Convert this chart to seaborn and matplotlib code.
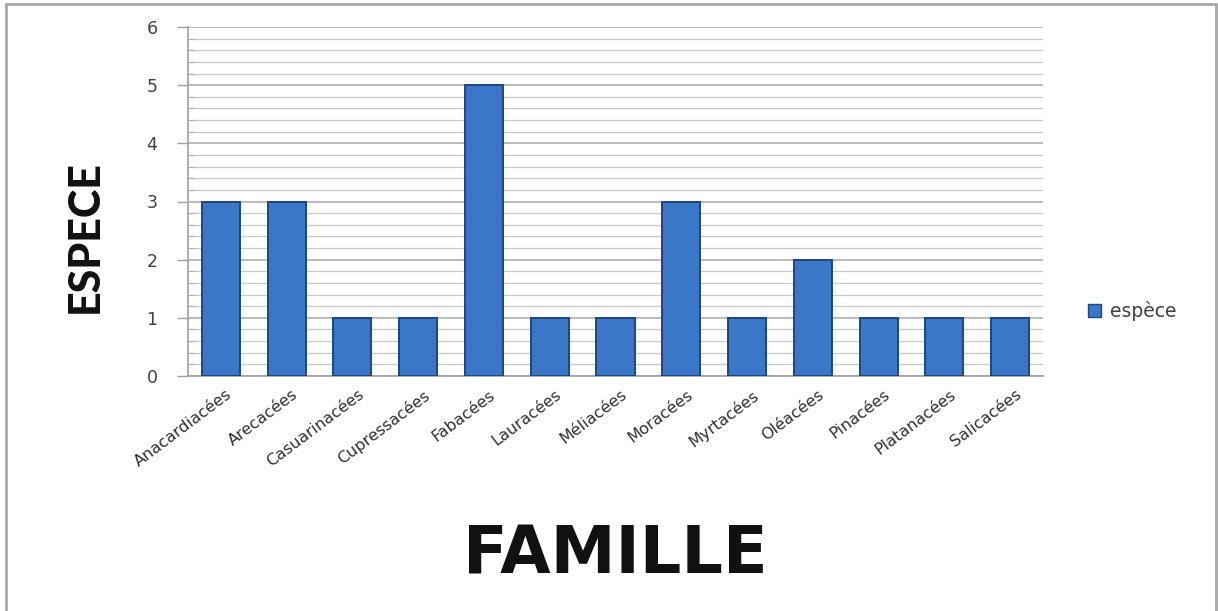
import matplotlib
matplotlib.use("Agg")
import matplotlib.pyplot as plt
import matplotlib.transforms as mtransforms
from matplotlib.lines import Line2D
from matplotlib.patches import Patch
from matplotlib.ticker import MultipleLocator
import seaborn as sns
import pandas as pd

families = ["Anacardiacées", "Arecacées", "Casuarinacées", "Cupressacées", "Fabacées",
            "Lauracées", "Méliacées", "Moracées", "Myrtacées", "Oléacées",
            "Pinacées", "Platanacées", "Salicacées"]
especes = [3, 3, 1, 1, 5, 1, 1, 3, 1, 2, 1, 1, 1]
series_name = "espèce"
y_ticks = [0, 1, 2, 3, 4, 5, 6]

sns.set_theme(style="white")
plt.rcParams['font.family'] = ['DejaVu Sans']

W, H = 1218, 611
fig = plt.figure(figsize=(W / 100, H / 100), dpi=100)
ax = fig.add_axes([188 / W, 1 - 376 / H, (1043 - 188) / W, (376 - 27) / H])

df = pd.DataFrame({"famille": families, "espece": especes})
bar_color = "#3A77C9"
edge_color = "#1C4680"
sns.barplot(data=df, x="famille", y="espece", color=bar_color, width=0.58,
            edgecolor=edge_color, linewidth=1.4, saturation=1, ax=ax, zorder=3)

ax.set_ylim(0, 6)
ax.set_xlim(-0.5, len(families) - 0.5)
ax.set_yticks(y_ticks)
ax.yaxis.set_minor_locator(MultipleLocator(0.2))
ax.grid(True, axis="y", which="major", color="#A8A8A8", linewidth=1.1, zorder=0)
ax.grid(True, axis="y", which="minor", color="#C8C8C8", linewidth=0.9, zorder=0)
ax.set_axisbelow(True)

for s in ["top", "right"]:
    ax.spines[s].set_visible(False)
for s in ["left", "bottom"]:
    ax.spines[s].set_color("#A0A0A0")
    ax.spines[s].set_linewidth(1.2)

ax.tick_params(axis="y", which="major", left=True, length=8, width=1, color="#A0A0A0",
               direction="out", pad=14, labelsize=12.5, labelcolor="#404040")
ax.tick_params(axis="y", which="minor", left=True, length=4, width=0.8, color="#B0B0B0",
               direction="in")
ax.tick_params(axis="x", bottom=False, pad=2, labelsize=11.5, labelcolor="#303030")
shift = mtransforms.ScaledTranslation(5 / 100, 0, fig.dpi_scale_trans)
for lab in ax.get_xticklabels():
    lab.set_rotation(37)
    lab.set_ha("right")
    lab.set_va("top")
    lab.set_rotation_mode("anchor")
    lab.set_transform(lab.get_transform() + shift)

ax.set_xlabel("")
ax.set_ylabel("")

fig.text(615 / W, 1 - 555 / H, "FAMILLE", fontsize=47, fontweight="bold",
         ha="center", va="center", color="#111111")
fig.text(85 / W, 1 - 237 / H, "ESPECE", fontsize=31, fontweight="black",
         family=["Lato", "DejaVu Sans"],
         rotation=90, ha="center", va="center", color="#111111")

handle = Patch(facecolor=bar_color, edgecolor=edge_color, label=series_name)
fig.legend(handles=[handle], loc="center left", bbox_to_anchor=(1071 / W, 1 - 311 / H),
           frameon=False, fontsize=13.5, handlelength=0.7, handleheight=0.7,
           handletextpad=0.5, labelcolor="#404040")

# outer chart frame
frame_kw = dict(color="#A8A8A8", linewidth=2, transform=fig.transFigure)
fig.add_artist(Line2D([6 / W, 6 / W], [0, 1 - 4 / H], **frame_kw))
fig.add_artist(Line2D([6 / W, 1216 / W], [1 - 4 / H, 1 - 4 / H], **frame_kw))
fig.add_artist(Line2D([1216 / W, 1216 / W], [0, 1 - 4 / H], **frame_kw))

fig.savefig("out.png", dpi=100)
